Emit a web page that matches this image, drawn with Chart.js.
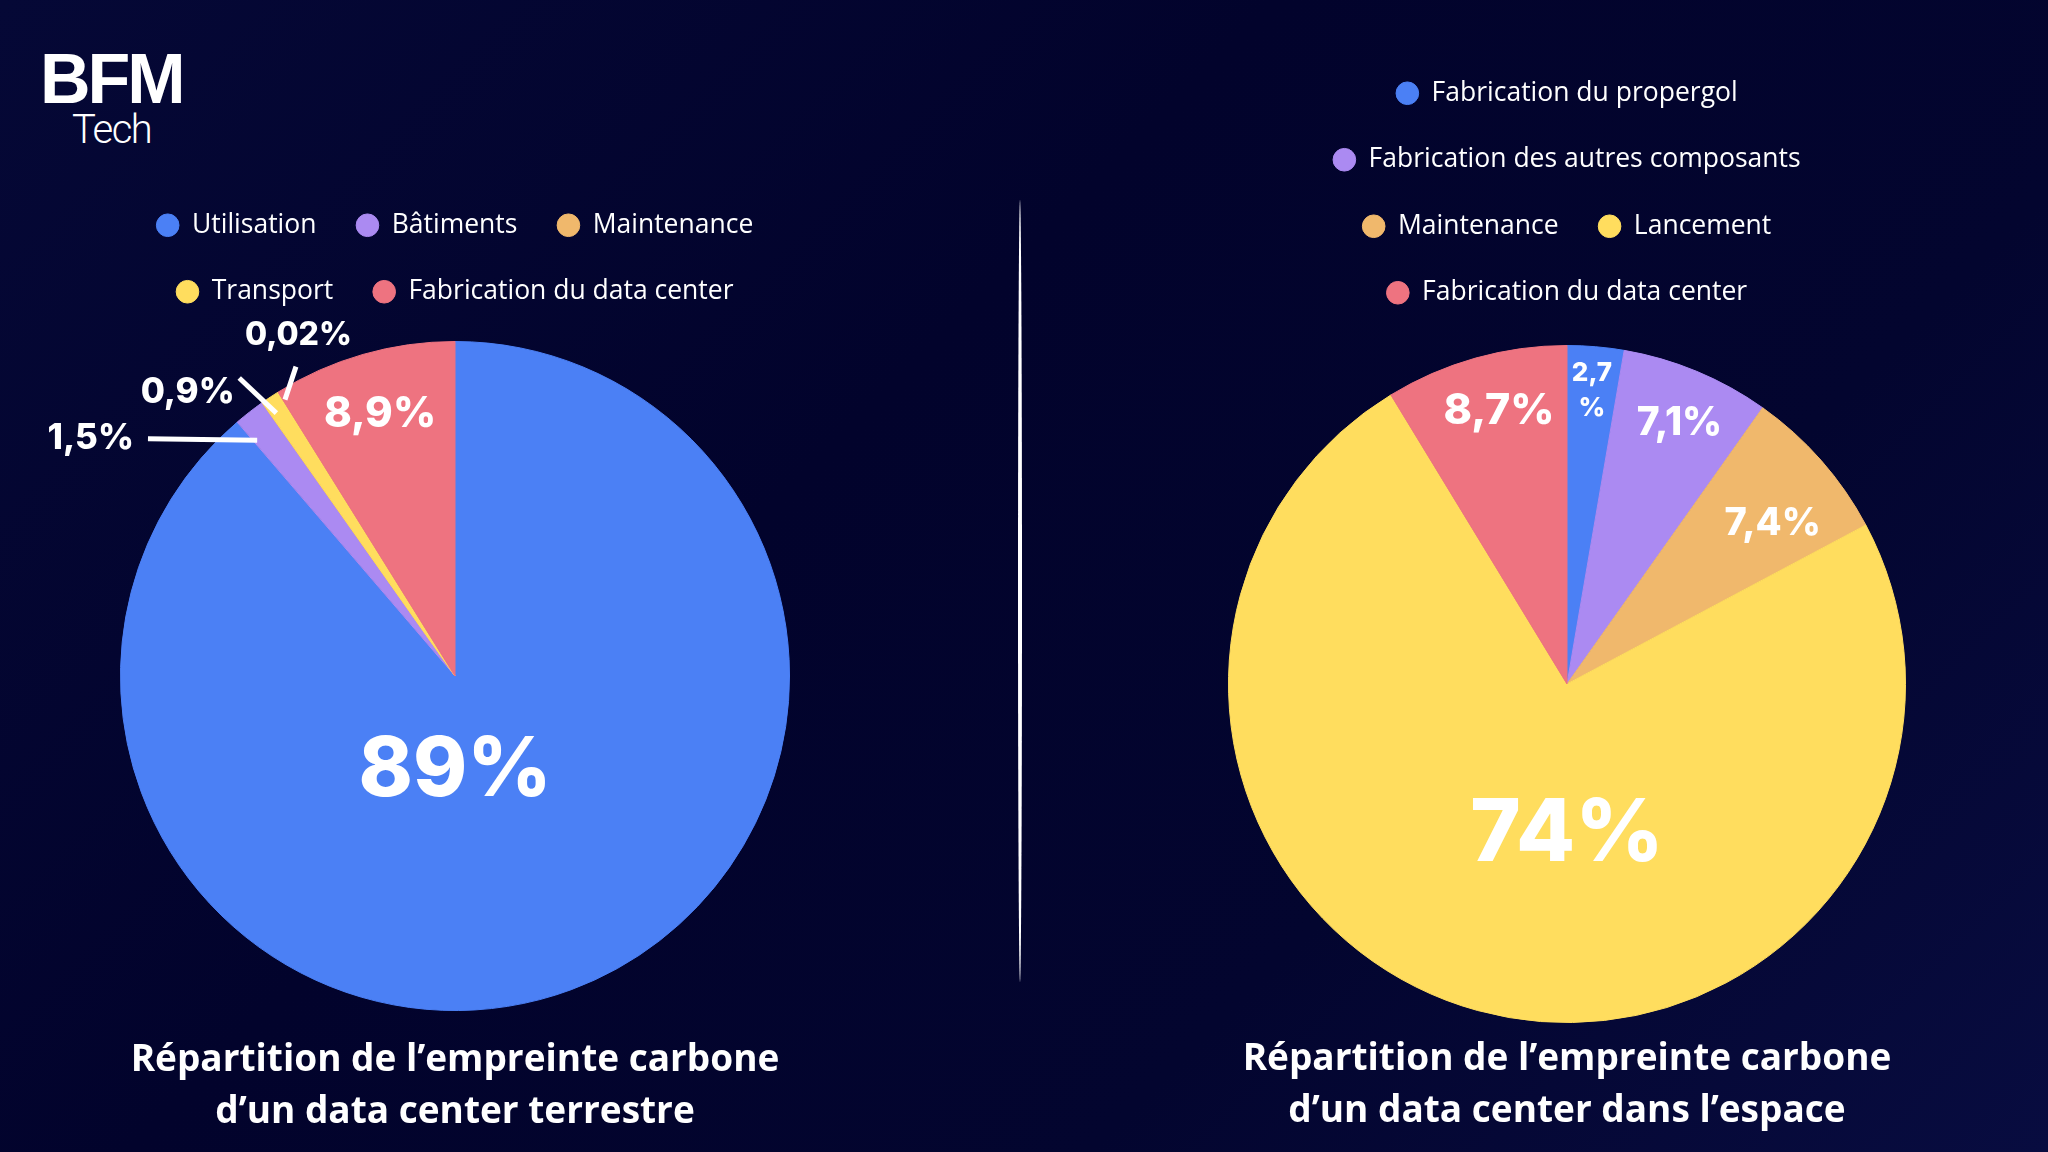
<!DOCTYPE html>
<html lang="fr">
<head>
<meta charset="utf-8">
<title>Empreinte carbone data center</title>
<script src="https://cdn.jsdelivr.net/npm/chart.js@4.4.1/dist/chart.umd.min.js"></script>
<style>
  body {
    margin: 0;
    width: 2048px;
    height: 1152px;
    overflow: hidden;
    position: relative;
    background: linear-gradient(135deg, #050836 0%, #02032c 40%, #03052f 70%, #080c40 100%);
    font-family: 'Open Sans', sans-serif;
  }
  .logo { position: absolute; left: 40px; top: 44px; color: #fff; }
  .logo .bfm { font-family: 'Liberation Sans', Arial, sans-serif; font-weight: 700; font-size: 70px; letter-spacing: -3px; line-height: 70px; }
  .logo .tech { font-family: Roboto, sans-serif; font-weight: 300; font-size: 40px; letter-spacing: -1.5px; line-height: 40px; margin-left: 32px; margin-top: -4px; }
  canvas { position: absolute; }
  #terre { left: 40px; top: 172px; }
  #espace { left: 1222px; top: 40px; }
  .sep { position: absolute; left: 1018px; top: 200px; width: 4px; height: 782px; background: #fff; border-radius: 50%; }
</style>
</head>
<body>
<div class="logo"><div class="bfm">BFM</div><div class="tech">Tech</div></div>
<div class="sep"></div>
<canvas id="terre" width="830" height="966"></canvas>
<canvas id="espace" width="690" height="1097"></canvas>
<script>
// Data center terrestre
const terreLabels = ['Utilisation', 'Bâtiments', 'Maintenance', 'Transport', 'Fabrication du data center'];
const terreValues = [89, 1.5, 0.02, 0.9, 8.9];
const terreColors = ['#4b80f5', '#ab8af2', '#f0b86c', '#ffdd5e', '#ee7380'];

// Data center dans l'espace
const espaceLabels = ['Fabrication du propergol', 'Fabrication des autres composants', 'Maintenance', 'Lancement', 'Fabrication du data center'];
const espaceValues = [2.7, 7.1, 7.4, 74, 8.7];
const espaceColors = ['#4b80f5', '#ab8af2', '#f0b86c', '#ffdd5e', '#ee7380'];

const fmt = v => String(v).replace('.', ',') + '%';

// espace en plus sous la légende
function legendGap(extra) {
    return {
        id: 'legendGap',
        afterInit(chart) {
            const fit = chart.legend.fit;
            chart.legend.fit = function () {
                fit.call(this);
                this.height += extra;
            };
        }
    };
}

// étiquettes : distance en rayons, angle en degrés depuis midi (sens horaire)
function pctLabels(spots) {
    return {
        id: 'pctLabels',
        afterDatasetsDraw(chart) {
            const ctx = chart.ctx;
            const arcs = chart.getDatasetMeta(0).data;
            const values = chart.data.datasets[0].data;
            ctx.save();
            ctx.fillStyle = '#fff';
            ctx.strokeStyle = '#fff';
            ctx.textAlign = 'center';
            ctx.textBaseline = 'middle';
            spots.forEach((spot, i) => {
                const p = arcs[i].getProps(['x', 'y', 'startAngle', 'endAngle', 'outerRadius'], true);
                const polar = (dist, deg) => {
                    const a = deg == null ? (p.startAngle + p.endAngle) / 2 : (deg - 90) * Math.PI / 180;
                    return [p.x + Math.cos(a) * dist * p.outerRadius, p.y + Math.sin(a) * dist * p.outerRadius];
                };
                if (spot.line) {
                    const a = polar(spot.line[0][0], spot.line[0][1]);
                    const b = polar(spot.line[1][0], spot.line[1][1]);
                    ctx.lineWidth = 5;
                    ctx.beginPath();
                    ctx.moveTo(a[0], a[1]);
                    ctx.lineTo(b[0], b[1]);
                    ctx.stroke();
                }
                const [tx, ty] = polar(spot.dist, spot.angle);
                ctx.font = '800 ' + spot.size + 'px Inter, "Open Sans", sans-serif';
                const txt = fmt(values[i]);
                if (spot.split) {
                    ctx.fillText(txt.slice(0, -1), tx, ty - spot.size * 0.67);
                    ctx.fillText('%', tx, ty + spot.size * 0.67);
                } else {
                    ctx.fillText(txt, tx, ty);
                }
            });
            ctx.restore();
        }
    };
}

function baseOptions(titleLines, titlePad) {
    return {
        responsive: false,
        animation: false,
        layout: { padding: 0 },
        plugins: {
            legend: {
                position: 'top',
                labels: {
                    color: '#ffffff',
                    font: { family: 'Open Sans', size: 26.5 },
                    usePointStyle: true,
                    pointStyle: 'circle',
                    boxWidth: 22,
                    boxHeight: 16,
                    padding: 40
                }
            },
            title: {
                display: true,
                position: 'bottom',
                text: titleLines,
                color: '#ffffff',
                font: { family: 'Open Sans', size: 37, weight: 'bold', lineHeight: 1.405 },
                padding: { top: titlePad, bottom: 0 }
            },
            tooltip: { enabled: false }
        }
    };
}

new Chart(document.getElementById('terre').getContext('2d'), {
    type: 'pie',
    data: {
        labels: terreLabels,
        datasets: [{
            data: terreValues,
            backgroundColor: terreColors,
            borderColor: terreColors,
            borderWidth: 1
        }]
    },
    options: baseOptions(['Répartition de l’empreinte carbone', 'd’un data center terrestre'], 23),
    plugins: [legendGap(26), pctLabels([
        { dist: 0.285, angle: 180, size: 82 },
        { dist: 1.30, angle: 303.1, size: 35, line: [[0.92, 320], [1.16, 307.7]] },
        { dist: 1.12, angle: 335.3, size: 32, line: [[0.97, 328.4], [1.04, 332.8]] },
        { dist: 1.165, angle: 316.7, size: 35, line: [[0.95, 325.8], [1.10, 324.1]] },
        { dist: 0.815, size: 42 }
    ])]
});

new Chart(document.getElementById('espace').getContext('2d'), {
    type: 'pie',
    data: {
        labels: espaceLabels,
        datasets: [{
            data: espaceValues,
            backgroundColor: espaceColors,
            borderColor: espaceColors,
            borderWidth: 1
        }]
    },
    options: baseOptions(['Répartition de l’empreinte carbone', 'd’un data center dans l’espace'], 10),
    plugins: [legendGap(29), pctLabels([
        { dist: 0.87, size: 26, split: true },
        { dist: 0.84, angle: 23.3, size: 39 },
        { dist: 0.77, angle: 52.1, size: 38 },
        { dist: 0.447, angle: 180, size: 86 },
        { dist: 0.83, angle: 346, size: 43 }
    ])]
});
</script>
</body>
</html>
